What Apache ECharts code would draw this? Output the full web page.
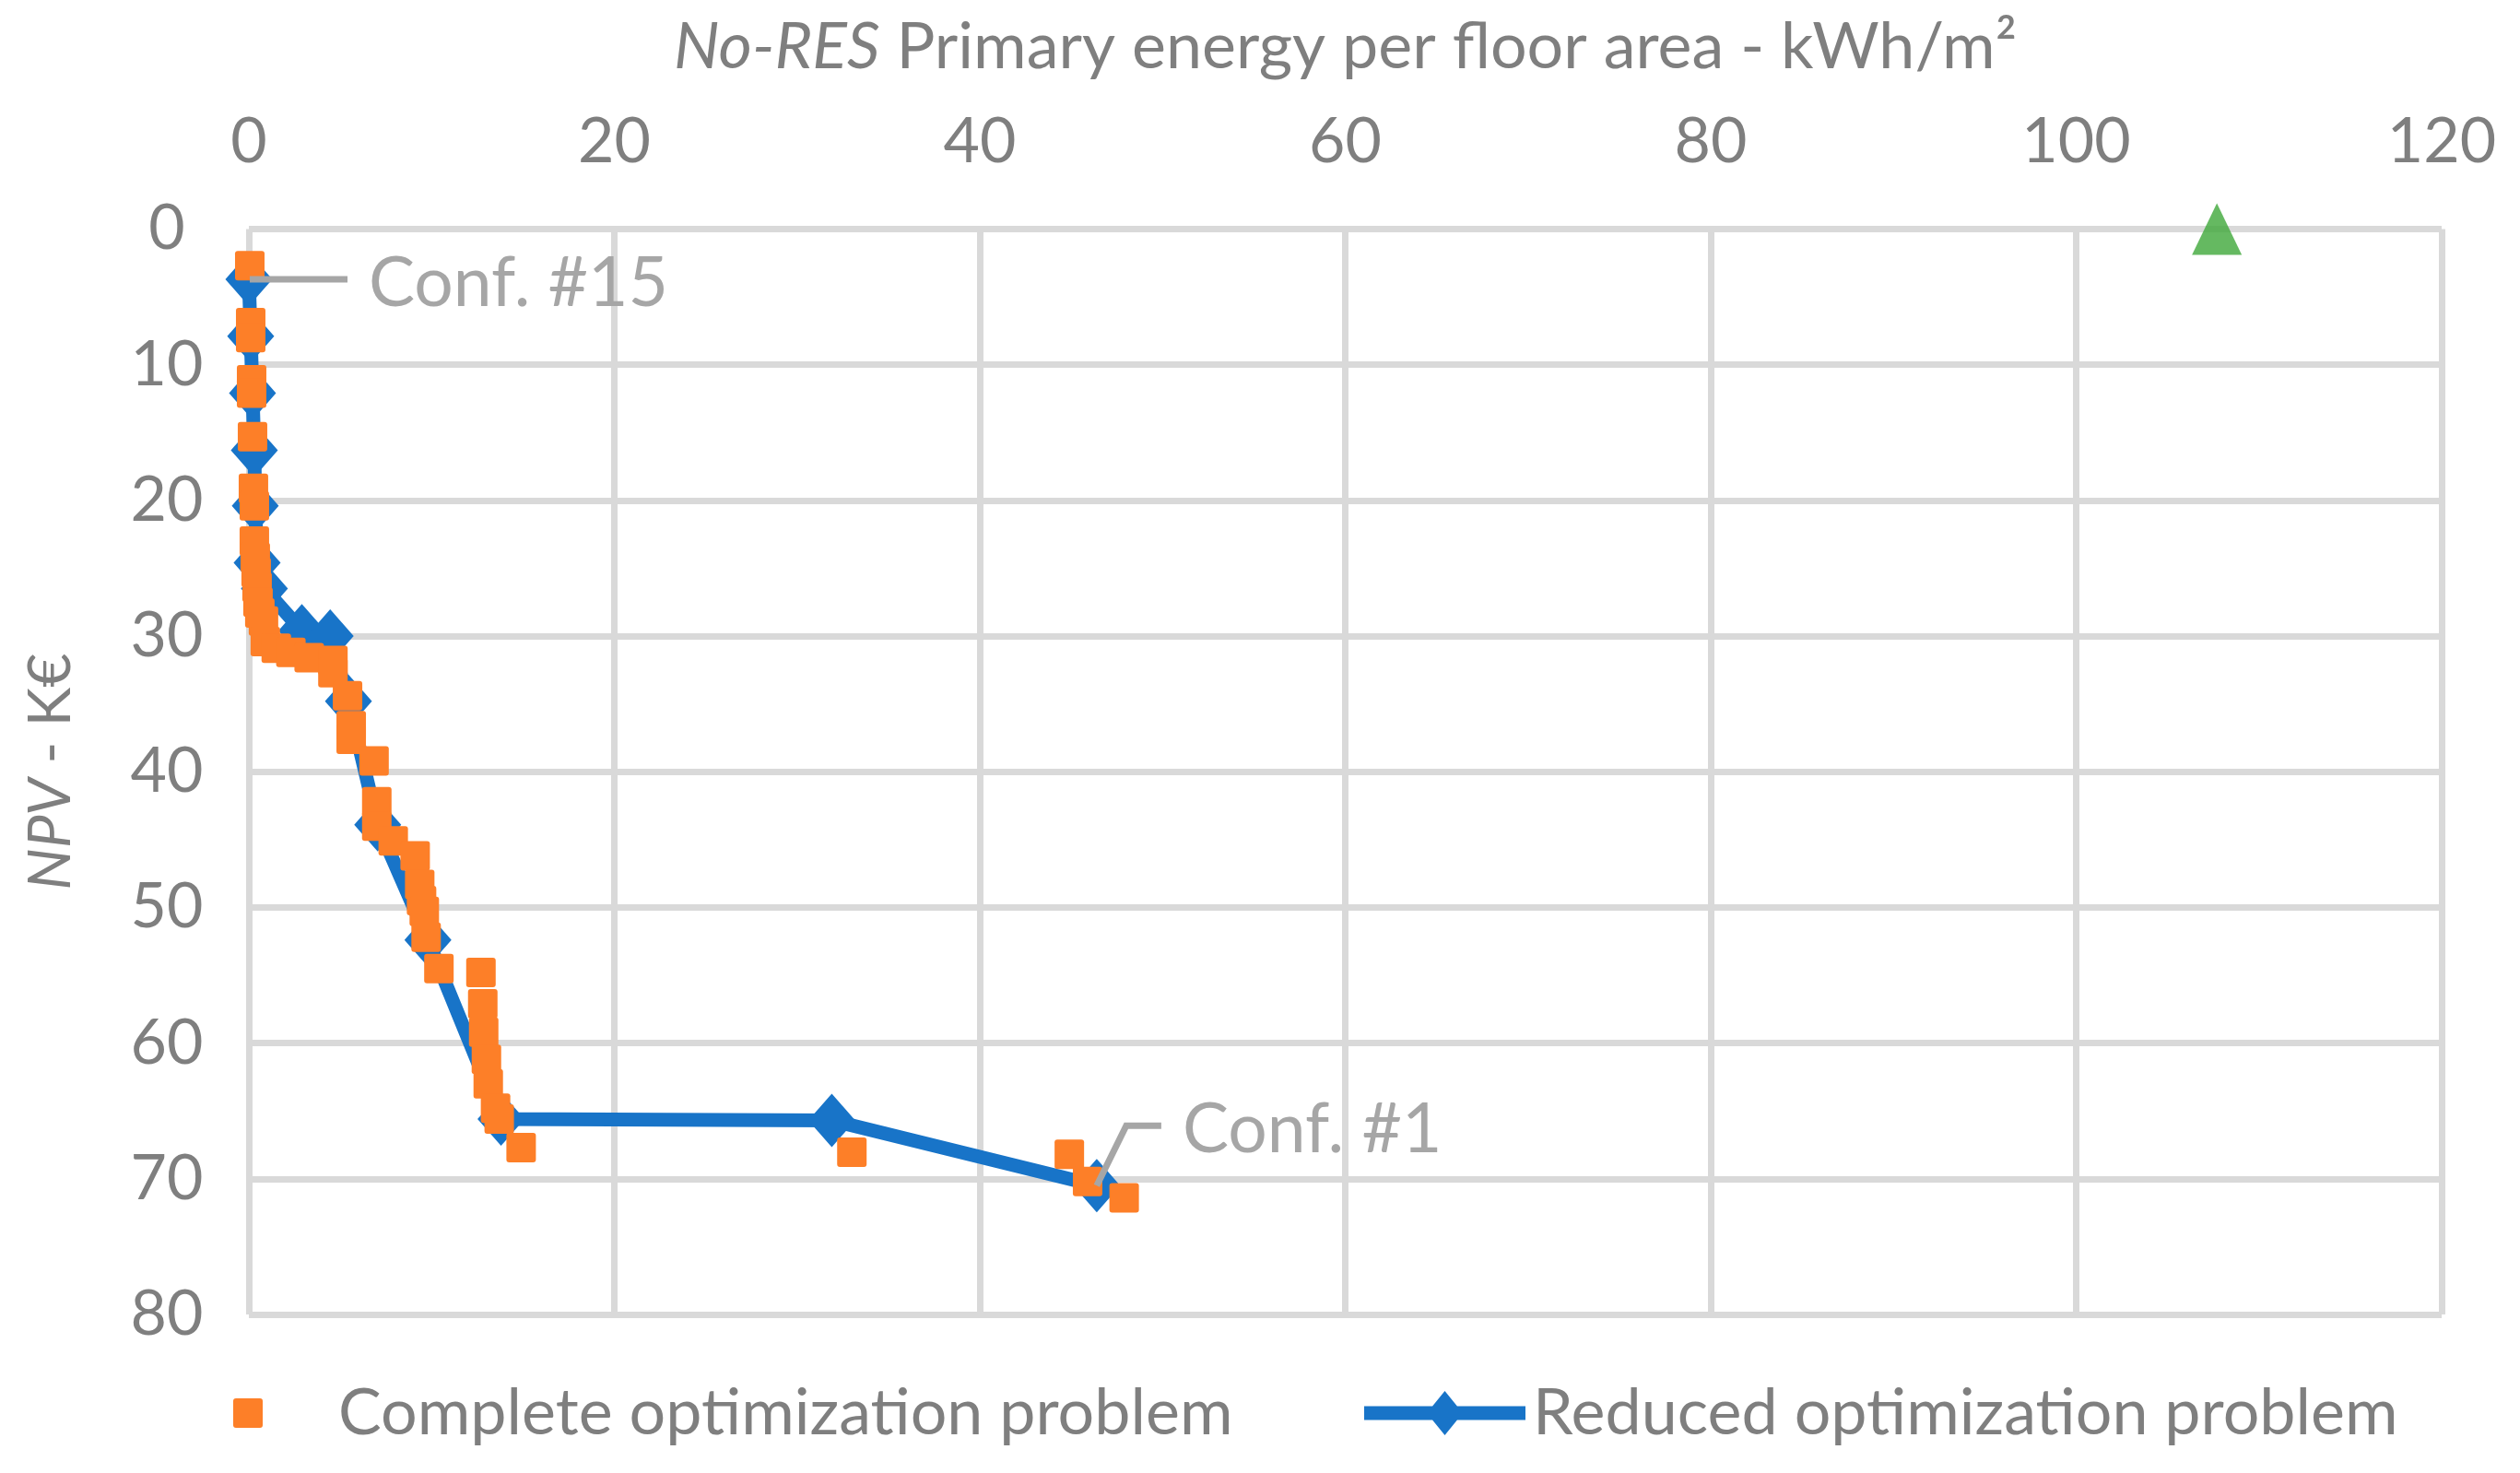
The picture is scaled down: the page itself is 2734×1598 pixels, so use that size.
<!DOCTYPE html>
<html>
<head>
<meta charset="utf-8">
<script src="https://cdn.jsdelivr.net/npm/echarts@6/dist/echarts.min.js"></script>
<style>
html,body{margin:0;padding:0;background:#fff;}
#c{width:2734px;height:1598px;}
</style>
</head>
<body>
<div id="c"></div>
<script>
// ---- Data ----
const completeName = 'Complete optimization problem';
const reducedName = 'Reduced optimization problem';

const completeEnergy = [0.05, 0.1, 0.1, 0.15, 0.15, 0.2, 0.25, 0.3, 0.3, 0.35, 0.4, 0.45, 0.5, 0.6,
  0.8, 0.9, 1.5, 2.3, 3.3, 4.6, 4.6, 5.4, 5.6, 5.6, 6.85, 7.0, 7.0, 7.9, 9.1, 9.35, 9.45, 9.6, 9.7, 10.4,
  12.7, 12.8, 12.85, 13.0, 13.1, 13.5, 13.7, 14.9, 33.0, 44.9, 45.9, 47.9];
const completeNpv = [2.7, 6.9, 8.0, 11.1, 12.1, 15.3, 19.1, 20.4, 23.0, 24.2, 25.3, 26.4, 27.5, 28.3,
  28.9, 30.4, 30.9, 31.2, 31.6, 31.8, 32.7, 34.4, 36.6, 37.6, 39.2, 42.2, 44.0, 45.1, 46.2, 48.3, 49.5, 50.3, 52.2, 54.5,
  54.8, 57.1, 59.2, 61.2, 63.0, 64.8, 65.6, 67.7, 68.05, 68.2, 70.2, 71.4];

const reducedEnergy = [0.0, 0.1, 0.2, 0.3, 0.35, 0.45, 0.85, 2.9, 4.45, 5.45, 7.05, 9.8, 13.8, 31.9, 46.4];
const reducedNpv = [3.7, 7.9, 12.1, 16.3, 20.4, 24.6, 26.5, 29.6, 30.0, 34.8, 43.9, 52.4, 65.6, 65.7, 70.5];

const referenceEnergy = [107.7];
const referenceNpv = [0];

const xTicks = [0, 20, 40, 60, 80, 100, 120];
const yTicks = [0, 10, 20, 30, 40, 50, 60, 70, 80];

const labels = { first: 'Conf. #15', last: 'Conf. #1' };

// ---- Chart ----
const FONT = 'Lato';
const GRAY = '#7f7f7f';
const BLUE = '#1874c8';
const ORANGE = '#fd7f28';
const zip = (a, b) => a.map((v, i) => [v, b[i]]);
const squarePath = 'path://M3,0 H29 Q32,0 32,3 V29 Q32,32 29,32 H3 Q0,32 0,29 V3 Q0,0 3,0 Z';
const lineDiamondPath = 'path://M0,16.5 L175,16.5 L175,31.5 L0,31.5 Z M68,24 L87.5,0 L107,24 L87.5,48 Z';

const chart = echarts.init(document.getElementById('c'), null, { renderer: 'canvas' });

const option = {
  backgroundColor: '#ffffff',
  animation: false,
  textStyle: { fontFamily: FONT },
  grid: { left: 270, right: 85, top: 248.5, bottom: 172, containLabel: false },
  xAxis: {
    type: 'value', position: 'top',
    min: xTicks[0], max: xTicks[xTicks.length - 1], interval: xTicks[1] - xTicks[0],
    axisLine: { show: false }, axisTick: { show: false },
    axisLabel: { fontSize: 68, color: GRAY, fontFamily: FONT, margin: 60 },
    splitLine: { show: true, lineStyle: { color: '#d9d9d9', width: 7 } },
    name: '{i|No-RES} Primary energy per floor area - kWh/m²',
    nameLocation: 'middle', nameGap: 162,
    nameTextStyle: { fontSize: 70, color: GRAY, fontFamily: FONT,
      rich: { i: { fontSize: 70, color: GRAY, fontFamily: FONT, fontStyle: 'italic' } } }
  },
  yAxis: {
    type: 'value', inverse: true,
    min: yTicks[0], max: yTicks[yTicks.length - 1], interval: yTicks[1] - yTicks[0],
    axisLine: { show: false }, axisTick: { show: false },
    axisLabel: { fontSize: 68, color: GRAY, fontFamily: FONT, margin: 89, align: 'center' },
    splitLine: { show: true, lineStyle: { color: '#d9d9d9', width: 7 } },
    name: '{i|NPV} - K€',
    nameLocation: 'middle', nameGap: 183, nameRotate: 90,
    nameTextStyle: { fontSize: 64, color: GRAY, fontFamily: FONT,
      rich: { i: { fontSize: 64, color: GRAY, fontFamily: FONT, fontStyle: 'italic' } } }
  },
  legend: [
    {
      data: [{ name: completeName, icon: squarePath }], left: 253, top: 1498, padding: 0,
      itemWidth: 32, itemHeight: 32,
      itemStyle: { color: ORANGE },
      textStyle: { fontSize: 70, color: GRAY, fontFamily: FONT, padding: [0, 0, 0, 77] }
    },
    {
      data: [{ name: reducedName, icon: lineDiamondPath }], left: 1480, top: 1498, padding: 0,
      itemWidth: 175, itemHeight: 48,
      itemStyle: { color: BLUE },
      textStyle: { fontSize: 70, color: GRAY, fontFamily: FONT, padding: [0, 0, 0, 3] }
    }
  ],
  series: [
    {
      name: reducedName, type: 'line', data: zip(reducedEnergy, reducedNpv),
      symbol: 'diamond', symbolSize: [51, 58],
      lineStyle: { color: BLUE, width: 15 },
      itemStyle: { color: BLUE }, z: 2
    },
    {
      name: completeName, type: 'scatter', data: zip(completeEnergy, completeNpv),
      symbol: squarePath, symbolSize: 32,
      itemStyle: { color: ORANGE, opacity: 1 }, z: 3
    },
    {
      name: 'Reference', type: 'scatter', data: zip(referenceEnergy, referenceNpv),
      symbol: 'triangle', symbolSize: [54, 56],
      itemStyle: { color: '#3fa83a' }, z: 4
    }
  ]
};
chart.setOption(option);

// annotations attached to the first and last points of the reduced series
const pA = chart.convertToPixel({ gridIndex: 0 }, [reducedEnergy[0], reducedNpv[0]]);
const pB = chart.convertToPixel({ gridIndex: 0 }, [reducedEnergy[reducedEnergy.length - 1], reducedNpv[reducedNpv.length - 1]]);
const annColor = '#a6a6a6';
chart.setOption({
  graphic: [
    { type: 'polyline', z: 10, shape: { points: [[pA[0] + 1, pA[1]], [pA[0] + 107, pA[1]]] },
      style: { stroke: annColor, lineWidth: 7, fill: null } },
    { type: 'text', z: 10, x: pA[0] + 130, y: pA[1] + 5,
      style: { text: labels.first, fill: annColor, font: '75px ' + FONT, verticalAlign: 'middle', align: 'left' } },
    { type: 'polyline', z: 10, shape: { points: [[pB[0], pB[1]], [pB[0] + 32, pB[1] - 65], [pB[0] + 70, pB[1] - 65]] },
      style: { stroke: annColor, lineWidth: 7, fill: null } },
    { type: 'text', z: 10, x: pB[0] + 93, y: pB[1] - 60,
      style: { text: labels.last, fill: annColor, font: '75px ' + FONT, verticalAlign: 'middle', align: 'left' } }
  ]
});
</script>
</body>
</html>
